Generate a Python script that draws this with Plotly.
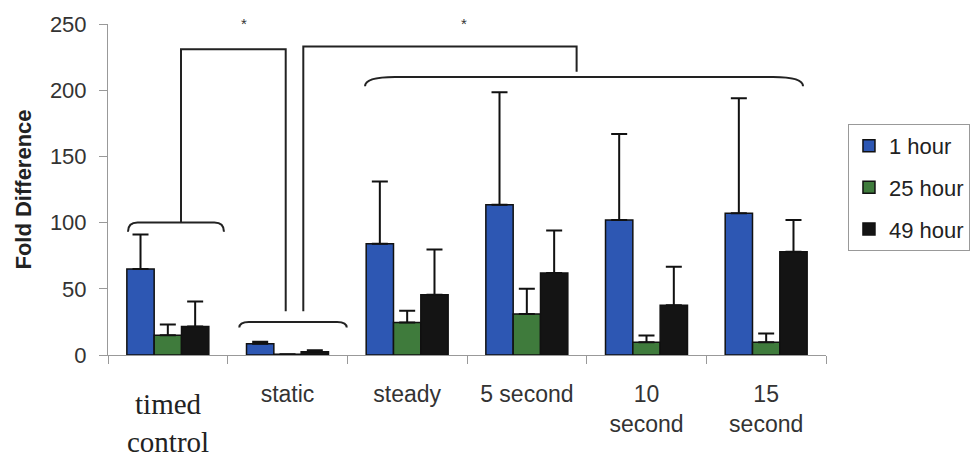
import plotly.graph_objects as go

categories = ["timed control", "static", "steady", "5 second", "10 second", "15 second"]
tick_labels = ["", "static", "steady", "5 second", "10<br>second", "15<br>second"]
series_names = ["1 hour", "25 hour", "49 hour"]
values_1h = [65, 8.5, 84, 113.5, 102, 107]
errors_1h = [26, 1.5, 47, 85, 65, 87]
values_25h = [15, 0.6, 24.5, 31, 9.7, 9.7]
errors_25h = [8, 0, 9, 19, 5, 6.5]
values_49h = [21.5, 2.5, 45.6, 62, 37.6, 78]
errors_49h = [19, 1, 34, 32, 29, 24]
colors = ["#2d57b3", "#3f7b3c", "#141414"]

series = [(values_1h, errors_1h), (values_25h, errors_25h), (values_49h, errors_49h)]

fig = go.Figure()
for i, (name, (vals, errs)) in enumerate(zip(series_names, series)):
    fig.add_trace(go.Bar(
        x=categories, y=vals, name=name, legendgroup=name,
        marker=dict(color=colors[i], line=dict(color="#111111", width=1.5)),
        error_y=dict(type="data", array=errs, arrayminus=[0] * len(errs), symmetric=False,
                     color="#111111", thickness=2, width=8),
    ))

sans = "Liberation Sans, Arial, sans-serif"
serif = "Liberation Serif, Times New Roman, serif"
line_col = "#222222"


def brace(x0, x1, ytop, yend, r=0.08):
    return (f"M {x0},{yend} Q {x0},{ytop} {x0 + r},{ytop} "
            f"L {x1 - r},{ytop} Q {x1},{ytop} {x1},{yend}")


def box(xa, ya, xb, yb, ytop):
    return f"M {xa},{ya} L {xa},{ytop} L {xb},{ytop} L {xb},{yb}"


paths = [
    brace(-0.333, 0.469, 100, 93),
    brace(0.597, 1.495, 25, 20.7),
    brace(1.648, 5.308, 210, 203, r=0.25),
    box(0.110, 100, 0.985, 33, 231),
    box(1.132, 33, 3.416, 214, 233),
]
shapes = [dict(type="path", path=p, xref="x", yref="y",
               line=dict(color=line_col, width=2)) for p in paths]

annotations = [
    dict(x=0.636, y=1.033, xref="x", yref="paper", text="*", showarrow=False,
         font=dict(family=sans, size=15, color="#333")),
    dict(x=2.475, y=1.033, xref="x", yref="paper", text="*", showarrow=False,
         font=dict(family=sans, size=15, color="#333")),
    dict(x=categories[0], y=-0.2066, xref="x", yref="paper", text="timed<br>control",
         showarrow=False, yanchor="middle",
         font=dict(family=serif, size=29, color="#222")),
]

fig.update_layout(
    barmode="group", bargap=0.315, bargroupgap=0,
    width=972, height=457,
    margin=dict(l=108, r=146, t=24, b=101.5, pad=0, autoexpand=False),
    paper_bgcolor="#ffffff", plot_bgcolor="#ffffff",
    font=dict(family=sans, size=22, color="#333"),
    shapes=shapes, annotations=annotations,
    legend=dict(x=1.0306, y=0.698, xanchor="left", yanchor="top",
                bordercolor="#999", borderwidth=1, tracegroupgap=10,
                font=dict(family=sans, size=22, color="#222")),
    xaxis=dict(type="category", tickmode="array", tickvals=categories, ticktext=tick_labels,
               tickson="boundaries", ticks="outside", ticklen=8, tickcolor="#999",
               showline=True, linecolor="#999", linewidth=1, showgrid=False,
               ticklabelstandoff=18,
               tickfont=dict(family=sans, size=23, color="#333"), automargin=False),
    yaxis=dict(range=[0, 250], dtick=50, ticks="outside", ticklen=8, tickcolor="#999",
               showline=True, linecolor="#999", linewidth=1, showgrid=False, zeroline=False,
               tickfont=dict(family=sans, size=22, color="#333"), ticklabelstandoff=8,
               title=dict(text="<b>Fold Difference</b>", standoff=12,
                          font=dict(family=sans, size=22, color="#222")),
               automargin=False),
)

fig.write_html("out.html")
